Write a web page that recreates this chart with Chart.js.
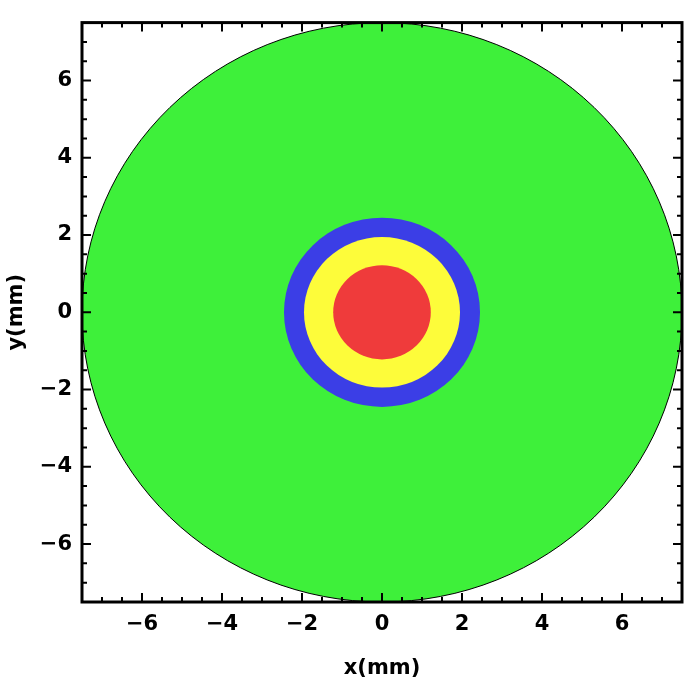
<!DOCTYPE html>
<html><head><meta charset="utf-8">
<script src="https://cdn.jsdelivr.net/npm/chart.js@4"></script>
<style>body{margin:0;background:#fff}#wrap{width:684px;height:685px}</style>
</head><body><div id="wrap"><canvas id="c"></canvas></div>
<script>
// regions, outermost first (radius in mm)
const regionNames = ["outer", "ring2", "ring1", "core"];
const regionRadii = [7.5, 2.45, 1.95, 1.22];
const regionColors = ["#3ef03a", "#3b3ee6", "#fdfc3a", "#ef3b3b"];
const majorTicks = [-6, -4, -2, 0, 2, 4, 6];
const minorStep = 0.5;
const axisMin = -7.5, axisMax = 7.5;

const fmt = v => (v < 0 ? "\u2212" + Math.abs(v) : String(v));

const discs = {
  id: "discs",
  beforeDatasetsDraw(chart) {
    const {ctx, scales: {x, y}, chartArea: a} = chart;
    ctx.save();
    ctx.beginPath(); ctx.rect(a.left, a.top, a.width, a.height); ctx.clip();
    regionRadii.forEach((r, i) => {
      const cx = x.getPixelForValue(0), cy = y.getPixelForValue(0);
      const rx = Math.abs(x.getPixelForValue(r) - cx);
      const ry = Math.abs(y.getPixelForValue(r) - cy);
      ctx.beginPath();
      ctx.ellipse(cx, cy, rx, ry, 0, 0, Math.PI * 2);
      ctx.fillStyle = regionColors[i];
      ctx.fill();
      if (i === 0) { ctx.strokeStyle = "#000"; ctx.lineWidth = 1; ctx.stroke(); }
    });
    ctx.restore();
  },
  afterDraw(chart) {
    const {ctx, scales: {x, y}, chartArea: a} = chart;
    ctx.save();
    ctx.strokeStyle = "#000";
    ctx.lineWidth = 2;
    for (let v = axisMin + minorStep; v < axisMax - 1e-6; v += minorStep) {
      const major = majorTicks.includes(Math.round(v * 100) / 100);
      const len = major ? 9 : 5;
      const px = x.getPixelForValue(v), py = y.getPixelForValue(v);
      ctx.beginPath();
      ctx.moveTo(px, a.bottom); ctx.lineTo(px, a.bottom - len);
      ctx.moveTo(px, a.top); ctx.lineTo(px, a.top + len);
      ctx.moveTo(a.left, py); ctx.lineTo(a.left + len, py);
      ctx.moveTo(a.right, py); ctx.lineTo(a.right - len, py);
      ctx.stroke();
    }
    ctx.lineWidth = 3;
    ctx.strokeRect(a.left, a.top, a.width, a.height);
    ctx.restore();
  }
};

const axis = (title) => ({
  type: "linear", min: axisMin, max: axisMax,
  grid: {display: false, drawTicks: false},
  border: {display: false},
  afterBuildTicks: s => { s.ticks = majorTicks.map(v => ({value: v})); },
  ticks: {color: "#000", font: {family: "DejaVu Sans", size: 21, weight: "bold"}, padding: 10, callback: v => fmt(v)},
  title: {display: true, text: title, color: "#000", font: {family: "DejaVu Sans", size: 21, weight: "bold"}}
});

new Chart(document.getElementById("c"), {
  type: "scatter",
  data: {datasets: []},
  options: {
    responsive: true, maintainAspectRatio: false, animation: false,
    layout: {padding: {top: -10, right: 2}},
    plugins: {legend: {display: false}, tooltip: {enabled: false}},
    scales: {
      x: Object.assign(axis("x(mm)"), {afterFit: s => { s.height = 83; }}),
      y: Object.assign(axis("y(mm)"), {afterFit: s => { s.width = 82; }})
    }
  },
  plugins: [discs]
});
</script></body></html>
